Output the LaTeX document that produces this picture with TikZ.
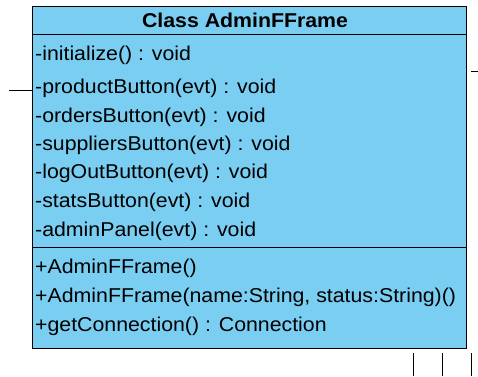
\documentclass[tikz,border=0pt]{standalone}
\usepackage{fontspec}
\setmainfont[FakeStretch=1.065]{Liberation Sans}
\definecolor{umlblue}{RGB}{122,206,242}
\begin{document}
\begin{tikzpicture}[x=1pt,y=-1pt,
  member/.style={anchor=west,inner sep=0pt,font=\fontsize{20}{22}\selectfont},
  edge/.style={draw=black,line width=1pt}]
\useasboundingbox (0,0) rectangle (478,376);
\node[draw=black,line width=1.2pt,fill=umlblue,minimum width=434pt,minimum height=342pt,anchor=north west,inner sep=0pt] (cls) at (32,6) {};
\draw[line width=1pt] (32,34) -- (466,34);
\draw[line width=1pt] (32,247) -- (466,247);
\node[font=\bfseries\fontsize{20}{22}\selectfont,inner sep=0pt] (title) at (245,20) {Class AdminFFrame};
\node[member] (m1) at (35,55) {-initialize() : void};
\node[member] (m2) at (35,88) {-productButton(evt) : void};
\node[member] (m3) at (35,117) {-ordersButton(evt) : void};
\node[member] (m4) at (35,145) {-suppliersButton(evt) : void};
\node[member] (m5) at (35,173) {-logOutButton(evt) : void};
\node[member] (m6) at (35,202) {-statsButton(evt) : void};
\node[member] (m7) at (35,231) {-adminPanel(evt) : void};
\node[member] (o1) at (35,268) {+AdminFFrame()};
\node[member] (o2) at (35,297) {+AdminFFrame(name:String, status:String)()};
\node[member] (o3) at (35,326) {+getConnection() : Connection};
\coordinate (l0) at (9,90);
\coordinate (l1) at (32,90);
\draw[edge] (l0) -- (l1);
\coordinate (r0) at (471,71);
\coordinate (r1) at (478,71);
\draw[edge] (r0) -- (r1);
\foreach \xx/\nn in {413/a,442/b,471/c}{
  \coordinate (b\nn0) at (\xx,353);
  \coordinate (b\nn1) at (\xx,376);
  \draw[edge] (b\nn0) -- (b\nn1);
}
\end{tikzpicture}
\end{document}
